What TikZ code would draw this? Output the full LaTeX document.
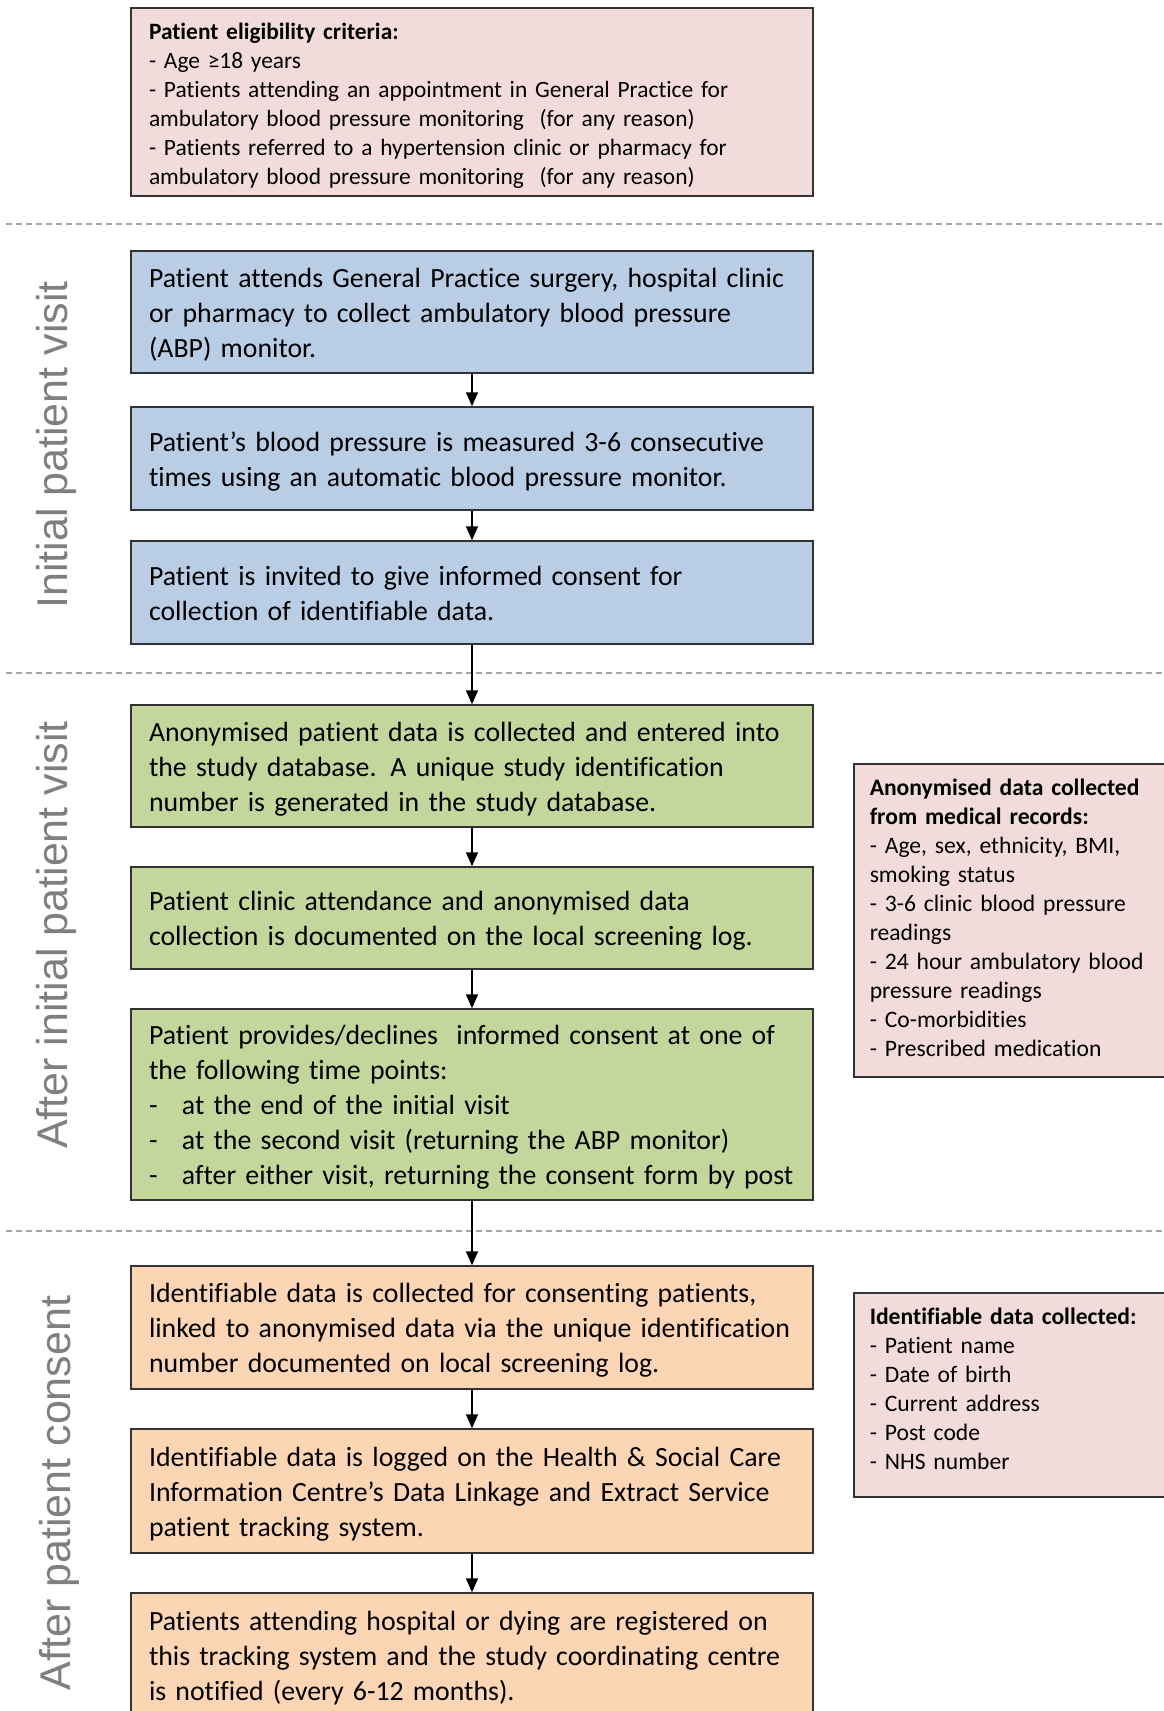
\documentclass[tikz,border=0pt]{standalone}
\usepackage{fontspec}
\setmainfont{Carlito}[Ligatures=NoCommon, WordSpace=0.75]
\newfontfamily\sidefont{Liberation Sans}
\usetikzlibrary{arrows.meta}
\hyphenpenalty=10000

\definecolor{pinkfill}{HTML}{F2DCDB}
\definecolor{bluefill}{HTML}{B9CDE5}
\definecolor{greenfill}{HTML}{C3D69B}
\definecolor{orangefill}{HTML}{FCD5B5}
\definecolor{phasegrey}{HTML}{7F7F7F}

\newcommand\criteriafont{\fontsize{23.4}{29}\selectfont\spaceskip=0.16em\relax}

\begin{document}
\begin{tikzpicture}[x=1pt, y=-1pt,
    stepbox/.style={draw=black!80, line width=1.5pt, text width=646pt,
        inner xsep=18pt, inner ysep=0pt, align=left,
        font=\fontsize{27.8}{35}\selectfont,
        execute at begin node={\rule{0pt}{31pt}}, execute at end node=\strut},
    notebox/.style={draw=black!80, line width=1.5pt, fill=pinkfill,
        inner ysep=0pt, align=left, font=\fontsize{23.6}{29}\selectfont,
        execute at begin node=\strut, execute at end node=\strut},
    phase/.style={rotate=90, anchor=base, text=phasegrey,
        font=\sidefont\fontsize{43}{50}\selectfont},
    divider/.style={draw=black!35, line width=1.5pt, dash pattern=on 6pt off 4pt},
    flow/.style={-{Triangle[length=14pt,width=12pt]}, line width=1.5pt}]
    \path[use as bounding box, fill=white] (0,0) rectangle (1163,1711);

    % eligibility
    \node[notebox, text width=646pt, inner xsep=18pt, minimum height=188pt,
        font=\criteriafont, execute at begin node={\rule{0pt}{29pt}}]
        (criteria_box) at (472,102) {\textbf{Patient eligibility criteria:}\\
        - Age ≥18 years\\
        - Patients attending an appointment in General Practice for\\
        ambulatory blood pressure monitoring\ \ (for any reason)\\
        - Patients referred to a hypertension clinic or pharmacy for\\
        ambulatory blood pressure monitoring\ \ (for any reason)};

    \draw[divider] (6,224) -- (1163,224);
    \draw[divider] (6,673) -- (1163,673);
    \draw[divider] (6,1231) -- (1163,1231);

    \node[phase] (initial_label) at (67,445) {Initial patient visit};
    \node[phase] (after_label) at (67,935) {After initial patient visit};
    \node[phase] (consent_label) at (70,1493) {After patient consent};

    % initial visit
    \node[stepbox, fill=bluefill, minimum height=122pt] (attend_box) at (472,312)
        {Patient attends General Practice surgery, hospital clinic\\
        or pharmacy to collect ambulatory blood pressure\\
        (ABP) monitor.};
    \node[stepbox, fill=bluefill, minimum height=103pt] (measure_box) at (472,458.5)
        {Patient’s blood pressure is measured 3-6 consecutive\\
        times using an automatic blood pressure monitor.};
    \node[stepbox, fill=bluefill, minimum height=103pt] (invite_box) at (472,592.5)
        {Patient is invited to give informed consent for\\
        collection of identifiable data.};

    % after initial visit
    \node[stepbox, fill=greenfill, minimum height=122pt] (anon_box) at (472,766)
        {Anonymised patient data is collected and entered into\\
        the study database. A unique study identification\\
        number is generated in the study database.};
    \node[stepbox, fill=greenfill, minimum height=102pt] (log_box) at (472,918)
        {Patient clinic attendance and anonymised data\\
        collection is documented on the local screening log.};
    \node[stepbox, fill=greenfill, minimum height=191pt] (consent_box) at (472,1104.5)
        {Patient provides/declines\ \ informed consent at one of\\
        the following time points:\\
        \makebox[33pt][l]{-}at the end of the initial visit\\
        \makebox[33pt][l]{-}at the second visit (returning the ABP monitor)\\
        \makebox[33pt][l]{-}after either visit, returning the consent form by post};

    % after consent
    \node[stepbox, fill=orangefill, minimum height=123pt] (link_box) at (472,1327.5)
        {Identifiable data is collected for consenting patients,\\
        linked to anonymised data via the unique identification\\
        number documented on local screening log.};
    \node[stepbox, fill=orangefill, minimum height=124pt] (track_box) at (472,1491)
        {Identifiable data is logged on the Health \& Social Care\\
        Information Centre’s Data Linkage and Extract Service\\
        patient tracking system.};
    \node[stepbox, fill=orangefill, minimum height=124pt] (notify_box) at (472,1655)
        {Patients attending hospital or dying are registered on\\
        this tracking system and the study coordinating centre\\
        is notified (every 6-12 months).};

    % side notes
    \node[notebox, anchor=west, text width=300pt, inner xsep=16pt,
        minimum height=313pt] (records_box) at (853,920.5)
        {\textbf{Anonymised data collected}\\
        \textbf{from medical records:}\\
        - Age, sex, ethnicity, BMI,\\
        smoking status\\
        - 3-6 clinic blood pressure\\
        readings\\
        - 24 hour ambulatory blood\\
        pressure readings\\
        - Co-morbidities\\
        - Prescribed medication};
    \node[notebox, anchor=west, text width=300pt, inner xsep=16pt,
        minimum height=204pt] (ident_box) at (853,1395)
        {\textbf{Identifiable data collected:}\\
        - Patient name\\
        - Date of birth\\
        - Current address\\
        - Post code\\
        - NHS number\rule[-17pt]{0pt}{1pt}};

    \path[flow]
        (attend_box) edge (measure_box)
        (measure_box) edge (invite_box)
        (invite_box) edge (anon_box)
        (anon_box) edge (log_box)
        (log_box) edge (consent_box)
        (consent_box) edge (link_box)
        (link_box) edge (track_box)
        (track_box) edge (notify_box);
\end{tikzpicture}
\end{document}
